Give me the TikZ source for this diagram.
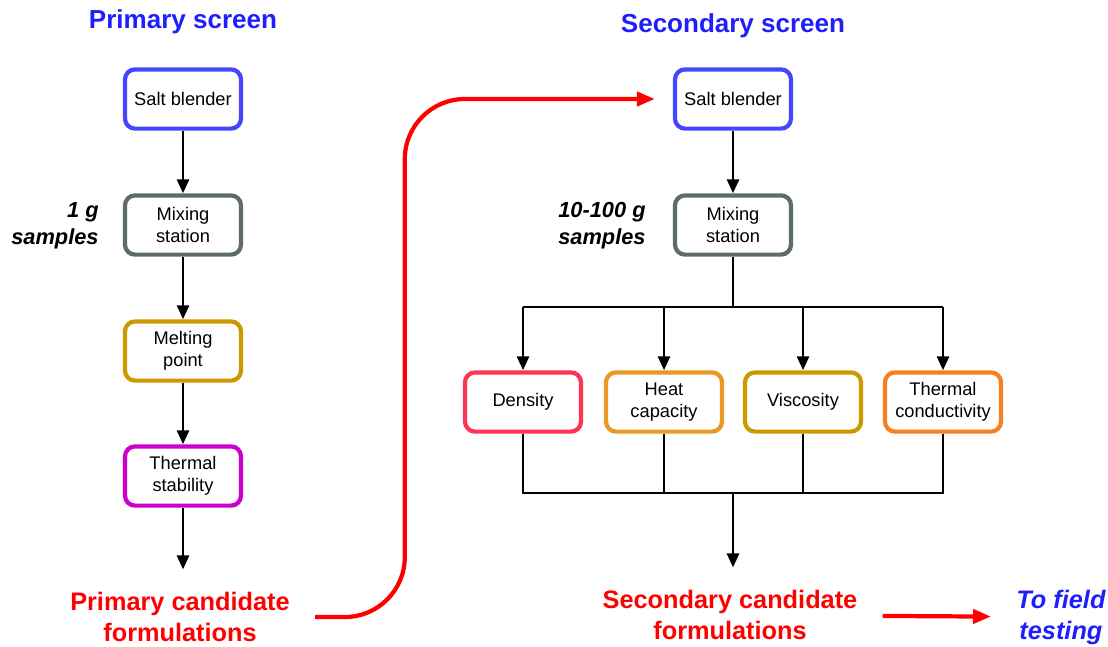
\documentclass[tikz,border=0pt]{standalone}
\usepackage{fontspec}
\setmainfont{Liberation Sans}
\usetikzlibrary{arrows.meta,calc,positioning}
\definecolor{titleblue}{HTML}{1E1EFF}
\definecolor{blenderblue}{HTML}{4646FF}
\definecolor{mixgray}{HTML}{5F6B66}
\definecolor{meltgold}{HTML}{CC9900}
\definecolor{stabmag}{HTML}{CC00CC}
\definecolor{densred}{HTML}{FF3352}
\definecolor{heatorange}{HTML}{E89A22}
\definecolor{condorange}{HTML}{F5821F}
\tikzset{
    -{Triangle[length=0.35cm,width=0.3cm]},
    box/.style ={rectangle, draw, rounded corners=0.25cm, line width=3pt, fill=white, text=black,
        minimum width=2.9cm, minimum height=1.48cm, inner sep=2pt, align=center,
        font=\fontsize{13}{16}\selectfont},
    title/.style ={text=titleblue, font=\fontsize{18.5}{22}\selectfont\bfseries},
    outcome/.style ={text=red, align=center, inner xsep=0.6cm, inner ysep=1pt,
        font=\fontsize{18}{22}\selectfont\bfseries},
    amount/.style ={anchor=east, align=right, inner sep=0pt,
        font=\fontsize{15.5}{19}\selectfont\bfseries\itshape},
    bus/.style ={-, line width=1.4pt},
    redarrow/.style ={red, line width=3pt, -{Triangle[length=0.45cm,width=0.35cm]}}
}

\begin{document}
\begin{tikzpicture}[x=0.025cm,y=-0.025cm,line width=2pt]
    \useasboundingbox (0,0) rectangle (1108,646);

    % primary screen
    \node[title] (t1) at (183,22) {Primary screen};
    \node[box, draw=blenderblue] (sb1) at (183,99) {Salt blender};
    \node[box, draw=mixgray] (ms1) at (183,225) {Mixing\\station};
    \node[box, draw=meltgold] (mp) at (183,351) {Melting\\point};
    \node[box, draw=stabmag] (ts) at (183,476) {Thermal\\stability};
    \node[amount] (g1) at (100,226) {1 g\\samples};
    \node[outcome] (pc) at (180,617) {Primary candidate\\formulations};

    \path (sb1) edge (ms1);
    \path (ms1) edge (mp);
    \path (mp) edge (ts);
    \draw[shorten >=0.5cm] (ts) -- (ts |- pc.north);

    % secondary screen
    \node[title] (t2) at (733,26) {Secondary screen};
    \node[box, draw=blenderblue] (sb2) at (733,99) {Salt blender};
    \node[box, draw=mixgray] (ms2) at (733,225) {Mixing\\station};
    \node[amount] (g2) at (647,226) {10-100 g\\samples};
    \node[box, draw=densred] (de) at (523,402) {Density};
    \node[box, draw=heatorange] (hc) at (664,402) {Heat\\capacity};
    \node[box, draw=meltgold] (vi) at (803,402) {Viscosity};
    \node[box, draw=condorange] (tc) at (943,402) {Thermal\\conductivity};
    \node[outcome] (sc) at (730,615) {Secondary candidate\\formulations};
    \node[outcome, text=titleblue, font=\fontsize{18}{22}\selectfont\bfseries\itshape, anchor=west] (ft) at (991,617) {To field\\testing};

    \coordinate (top) at (733,307);
    \coordinate (bot) at (733,493);

    \path (sb2) edge (ms2);
    \draw[bus] (ms2) -- (top);
    \draw[bus] (de |- top) -- (tc |- top);
    \draw (de |- top) -- (de);
    \draw (hc |- top) -- (hc);
    \draw (vi |- top) -- (vi);
    \draw (tc |- top) -- (tc);
    \draw[bus] (de) |- (bot);
    \draw[bus] (hc) -- (hc |- bot);
    \draw[bus] (vi) -- (vi |- bot);
    \draw[bus] (tc) |- (bot);
    \draw[shorten >=0.5cm] (bot) -- (bot |- sc.north);

    % hand-over between the screens
    \draw[redarrow, rounded corners=1.5cm, shorten >=0.45cm] (pc.east) -| ([xshift=-6.7cm]sb2.west) -- (sb2.west);
    \draw[redarrow] (sc) -- (ft);
\end{tikzpicture}
\end{document}
